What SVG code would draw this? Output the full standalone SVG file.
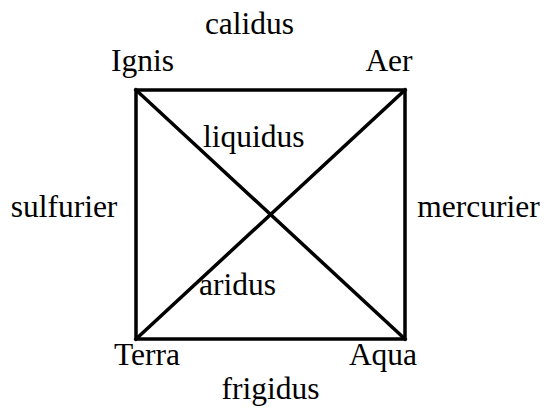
<svg xmlns="http://www.w3.org/2000/svg" width="544" height="408" viewBox="0 0 544 408">
<style>
.t{font-family:'Liberation Serif','DejaVu Serif',serif;font-size:31.5px;fill:#000}
.ln{stroke:#000;stroke-width:3.5;fill:none;stroke-linecap:square}
</style>
<rect width="544" height="408" fill="#fff"/>
<g id="connectors">
<rect class="ln" x="136" y="90" width="269" height="249"/>
<line class="ln" x1="136" y1="90" x2="405" y2="339"/>
<line class="ln" x1="405" y1="90" x2="136" y2="339"/>
</g>
<g class="t" font-family="Liberation Serif, DejaVu Serif, serif">
<g id="ignis"><text x="111" y="71">Ignis</text></g>
<g id="aer"><text x="389" y="71" text-anchor="middle">Aer</text></g>
<g id="terra"><text x="114" y="365">Terra</text></g>
<g id="aqua"><text x="383" y="365" text-anchor="middle">Aqua</text></g>
<g id="calidus"><text x="249.5" y="33.5" text-anchor="middle">calidus</text></g>
<g id="frigidus"><text x="270.5" y="399" text-anchor="middle">frigidus</text></g>
<g id="sulfurier"><text x="64" y="217" text-anchor="middle">sulfurier</text></g>
<g id="mercurier"><text x="478.5" y="217" text-anchor="middle">mercurier</text></g>
<g id="liquidus"><text x="203" y="147">liquidus</text></g>
<g id="aridus"><text x="199" y="295">aridus</text></g>
</g>
</svg>
